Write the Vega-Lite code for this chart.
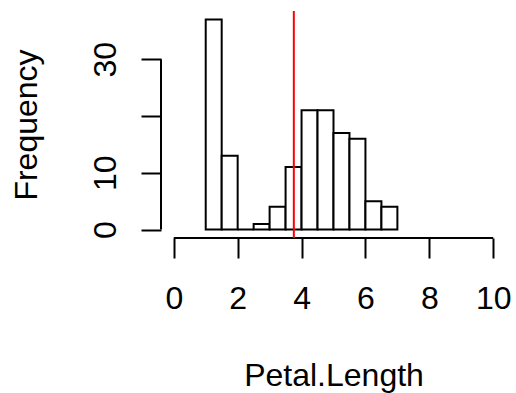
{
  "$schema": "https://vega.github.io/schema/vega-lite/v6.json",
  "width": 345,
  "height": 227,
  "autosize": {"type": "none"},
  "padding": {"left": 161, "top": 11, "right": 10, "bottom": 155},
  "background": "white",
  "config": {
    "view": {"stroke": null},
    "font": "Liberation Sans",
    "axis": {"grid": false, "domain": false, "tickColor": "black", "tickWidth": 2, "tickSize": 20, "labelColor": "black", "labelFontSize": 32, "titleFontSize": 32, "titleFontWeight": "normal", "titleColor": "black", "labelFlush": false, "labelOverlap": false}
  },
  "layer": [
    {
      "data": {"values": [
        {"bin_start": 1.0, "bin_end": 1.5, "count": 37},
        {"bin_start": 1.5, "bin_end": 2.0, "count": 13},
        {"bin_start": 2.0, "bin_end": 2.5, "count": 0},
        {"bin_start": 2.5, "bin_end": 3.0, "count": 1},
        {"bin_start": 3.0, "bin_end": 3.5, "count": 4},
        {"bin_start": 3.5, "bin_end": 4.0, "count": 11},
        {"bin_start": 4.0, "bin_end": 4.5, "count": 21},
        {"bin_start": 4.5, "bin_end": 5.0, "count": 21},
        {"bin_start": 5.0, "bin_end": 5.5, "count": 17},
        {"bin_start": 5.5, "bin_end": 6.0, "count": 16},
        {"bin_start": 6.0, "bin_end": 6.5, "count": 5},
        {"bin_start": 6.5, "bin_end": 7.0, "count": 4}
      ]},
      "mark": {"type": "rect", "fill": "white", "stroke": "black", "strokeWidth": 2},
      "encoding": {
        "x": {"field": "bin_start", "type": "quantitative",
          "scale": {"domain": [-0.4, 10.4], "nice": false, "zero": false},
          "axis": {"values": [0, 2, 4, 6, 8, 10], "labelBaseline": "alphabetic", "labelPadding": 50, "title": "Petal.Length", "titleBaseline": "alphabetic", "titleY": 147}},
        "x2": {"field": "bin_end"},
        "y": {"field": "count", "type": "quantitative",
          "scale": {"domain": [-1.48, 38.48], "nice": false, "zero": false},
          "axis": {"values": [0, 10, 20, 30], "labelExpr": "datum.value == 20 ? '' : datum.label", "labelAngle": 270, "labelAlign": "center", "labelBaseline": "alphabetic", "labelPadding": 26, "title": "Frequency", "titleAngle": 270, "titleAlign": "center", "titleBaseline": "alphabetic", "titleX": -125, "titleY": 113.5}},
        "y2": {"datum": 0}
      }
    },
    {
      "data": {"values": [{"line": "x axis"}]},
      "mark": {"type": "rule", "color": "black", "strokeWidth": 2},
      "encoding": {"x": {"datum": 0}, "x2": {"datum": 10}, "y": {"datum": -1.48}}
    },
    {
      "data": {"values": [{"line": "y axis"}]},
      "mark": {"type": "rule", "color": "black", "strokeWidth": 2},
      "encoding": {"y": {"datum": 0}, "y2": {"datum": 30}, "x": {"datum": -0.4}}
    },
    {
      "data": {"values": [{"mean": 3.758}]},
      "mark": {"type": "rule", "color": "#FF0000", "strokeWidth": 2},
      "encoding": {"x": {"field": "mean", "type": "quantitative"}}
    }
  ]
}
